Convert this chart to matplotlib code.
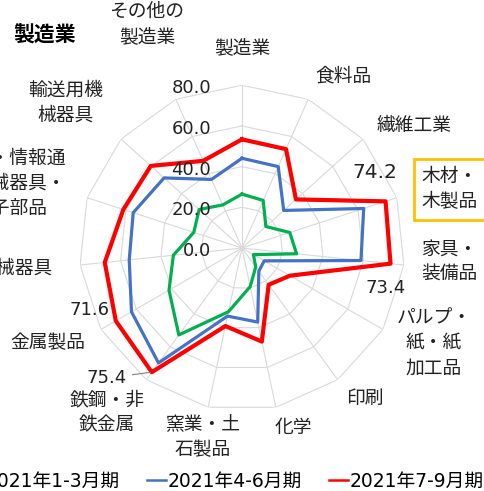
import numpy as np
import matplotlib.pyplot as plt
from matplotlib.lines import Line2D

plt.rcParams['font.family'] = ['DejaVu Sans', 'Noto Sans CJK JP']

# 業種（時計回り、上から）
categories = ['製造業', '食料品', '繊維工業', '木材・\n木製品', '家具・\n装備品',
              'パルプ・\n紙・紙\n加工品', '印刷', '化学', '窯業・土\n石製品',
              '鉄鋼・非\n鉄金属', '金属製品', 'はん用機械器具',
              '電気・情報通\n信機械器具・\n電子部品', '輸送用機\n械器具', 'その他の\n製造業']
series_names = ['2021年1-3月期', '2021年4-6月期', '2021年7-9月期']
q1 = [26.5, 25.6, 15.8, 24.7, 27.0, 6.5, 11.5, 19.4, 32.0, 52.8, 41.4, 33.9, 24.9, 28.3, 23.2]
q2 = [44.1, 43.8, 27.6, 62.9, 58.8, 12.6, 14.1, 37.2, 34.2, 69.8, 62.7, 55.7, 56.2, 51.5, 36.9]
q3 = [53.4, 53.2, 35.7, 74.2, 73.4, 27.2, 22.3, 47.0, 39.2, 75.4, 71.6, 67.8, 61.3, 60.3, 46.9]
r_ticks = [0, 20, 40, 60, 80]
labeled_idx = [3, 4, 9, 10]

W, H = 484, 491


def px(x, y):
    return x / W, 1 - y / H


fig = plt.figure(figsize=(W / 100, H / 100), dpi=100)
ax = fig.add_axes([0.1636, 0.1633, 0.6727, 0.6631], projection='polar')
ax.set_theta_zero_location('N')
ax.set_theta_direction(-1)
ax.set_ylim(0, 80)
ax.grid(False)
ax.spines['polar'].set_visible(False)
ax.set_xticks([])
ax.set_yticks([])

n = len(categories)
angles = np.arange(n) * 2 * np.pi / n
closed = np.append(angles, angles[0])

# 多角形のグリッド
grid_c = '#D9D9D9'
for r in r_ticks[1:]:
    ax.plot(closed, [r] * (n + 1), color=grid_c, lw=0.8, zorder=1)
for a in angles:
    ax.plot([a, a], [0, r_ticks[-1]], color=grid_c, lw=0.8, zorder=1)

colors = ['#00B050', '#4472C4', '#FF0000']
widths = [2.3, 2.3, 3.0]
for vals, c, lw, name in zip([q1, q2, q3], colors, widths, series_names):
    ax.plot(closed, vals + vals[:1], color=c, lw=lw, zorder=3, label=name)

# 目盛ラベル
for r in r_ticks:
    ax.annotate('{:.1f}'.format(r), xy=(0, r), xytext=(-31, -3), textcoords='offset pixels',
                ha='right', va='center', fontsize=13, color='#222222')

# データラベル（7-9月期の一部）
offsets = {3: (-11, 29), 4: (-5, -24), 9: (-45, -6), 10: (-26, 11)}
for i in labeled_idx:
    dx, dy = offsets[i]
    fs = 14.5 if i == 3 else 13
    arrow = dict(arrowstyle='-', color='#808080', lw=0.8, shrinkA=2, shrinkB=1) if i == 9 else None
    ax.annotate('{:.1f}'.format(q3[i]), xy=(angles[i], q3[i]), xytext=(dx, dy),
                textcoords='offset pixels', ha='center', va='center', fontsize=fs,
                color='#222222', arrowprops=arrow, zorder=4)

# 業種ラベル
label_pos = [(242, 48), (343, 76), (414, 125), (450, 189), (449, 262), (434, 343),
             (365, 398), (293, 427), (203, 437), (107, 412), (48, 343), (53, 268),
             (10, 183), (66, 103), (147, 24)]
for i, (name, (x, y)) in enumerate(zip(categories, label_pos)):
    kw = dict(ha='center', va='center', fontsize=13.5, family=['Noto Sans CJK JP'],
              color='#222222', linespacing=1.25)
    if i == 11:
        kw['ha'] = 'right'
    if i == 3:
        kw['bbox'] = dict(boxstyle='square,pad=0.4', fc='white', ec='#FFC000', lw=2)
    fig.text(*px(x, y), name, **kw)

fig.text(*px(45, 35), '製造業', ha='center', va='center', fontsize=15, fontweight='bold',
         family=['Noto Sans CJK JP'])

leg_handles = [Line2D([], [], color=c, lw=1.8) for c in colors]
fig.legend(leg_handles, series_names, loc='center', bbox_to_anchor=px(224.5, 481), ncol=3,
           frameon=False, handlelength=1.0, handletextpad=0.1, columnspacing=1.45,
           fontsize=13.5)

plt.savefig('out.png', dpi=100)
